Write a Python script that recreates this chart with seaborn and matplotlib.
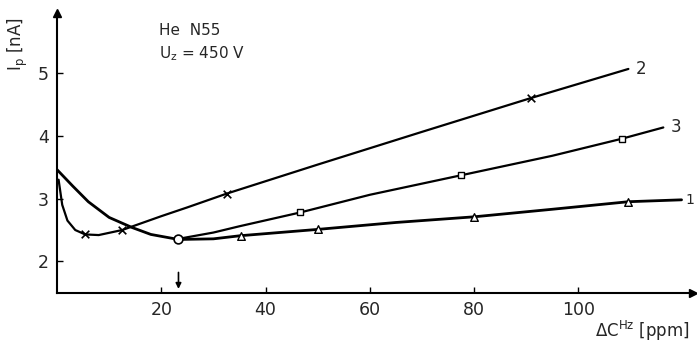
import numpy as np
import pandas as pd
import matplotlib.pyplot as plt
import seaborn as sns

# curve 1 (triangles), shares the first branch with curve 3
c1_x = [0, 3, 6, 10, 14.4, 18, 23.3, 30, 35.2, 50, 65, 80, 95, 109.6, 119.8]
c1_y = [3.46, 3.2, 2.95, 2.7, 2.54, 2.43, 2.35, 2.36, 2.41, 2.51, 2.62, 2.71, 2.83, 2.95, 2.98]
c1_mx = [35.2, 50, 80, 109.6]
c1_my = [2.41, 2.51, 2.71, 2.95]

# curve 2 (crosses)
c2_x = [0.3, 1, 2, 3.5, 5.4, 8, 12.5, 20, 25, 32.6, 50, 70, 91, 109.6]
c2_y = [3.3, 2.9, 2.65, 2.5, 2.43, 2.42, 2.5, 2.72, 2.86, 3.08, 3.54, 4.06, 4.6, 5.06]
c2_mx = [5.4, 12.5, 32.6, 91]
c2_my = [2.43, 2.5, 3.08, 4.6]

# curve 3 (squares), branches off at the minimum
c3_x = [23.3, 30, 35, 46.7, 60, 77.5, 95, 108.3, 116.3]
c3_y = [2.36, 2.46, 2.56, 2.78, 3.06, 3.37, 3.68, 3.95, 4.13]
c3_mx = [46.7, 77.5, 108.3]
c3_my = [2.78, 3.37, 3.95]

min_x, min_y = 23.3, 2.35

x_ticks = [20, 40, 60, 80, 100]
y_ticks = [2, 3, 4, 5]

sns.set_style("white")
plt.rcParams["font.family"] = ["DejaVu Sans"]

fig = plt.figure(figsize=(6.97, 3.5), dpi=100)
ax = fig.add_axes([0.0818, 0.163, 0.9125, 0.80])

line_kw = dict(color="black", sort=False, estimator=None, ax=ax)
sns.lineplot(x=c1_x, y=c1_y, linewidth=2.0, **line_kw)
sns.lineplot(x=c2_x, y=c2_y, linewidth=1.6, **line_kw)
sns.lineplot(x=c3_x, y=c3_y, linewidth=1.6, **line_kw)

sns.scatterplot(x=c1_mx, y=c1_my, marker="^", s=30, facecolor="white",
                edgecolor="black", linewidth=1.0, ax=ax, zorder=3)
sns.scatterplot(x=c2_mx, y=c2_my, marker="x", s=30, color="black",
                linewidth=1.2, ax=ax, zorder=3)
sns.scatterplot(x=c3_mx, y=c3_my, marker="s", s=22, facecolor="white",
                edgecolor="black", linewidth=1.0, ax=ax, zorder=3)
sns.scatterplot(x=[min_x], y=[min_y], marker="o", s=40, facecolor="white",
                edgecolor="black", linewidth=1.2, ax=ax, zorder=3)

# curve labels
ax.text(c2_x[-1] + 1.5, c2_y[-1], "2", fontsize=12, va="center")
ax.text(c3_x[-1] + 1.5, c3_y[-1], "3", fontsize=12, va="center")
ax.text(c1_x[-1] + 0.8, c1_y[-1], "1", fontsize=10, va="center")

# arrow marking the minimum
ax.annotate("", xy=(min_x, 1.52), xytext=(min_x, 1.87),
            arrowprops=dict(arrowstyle="-|>", color="black", lw=1.2,
                            mutation_scale=8))

ax.text(19.5, 5.6, "He  N55", fontsize=11)
ax.text(19.5, 5.23, "U$_\\mathregular{z}$ = 450 V", fontsize=11)

ax.set_xlim(0, 122)
ax.set_ylim(1.5, 5.95)
ax.set_xticks(x_ticks)
ax.set_yticks(y_ticks)
ax.tick_params(direction="in", length=4, width=1, labelsize=12.5, pad=6,
               left=True, bottom=True, color="black")
for s in ["top", "right"]:
    ax.spines[s].set_visible(False)
for s in ["left", "bottom"]:
    ax.spines[s].set_linewidth(1.5)
    ax.spines[s].set_color("black")

# axis arrows
ax.plot(1, 0, ">k", markersize=6, transform=ax.transAxes, clip_on=False)
ax.plot(0, 1, "^k", markersize=6, transform=ax.transAxes, clip_on=False)

ax.set_xlabel("")
ax.set_ylabel("")
fig.text(0.026, 0.95, "I$_\\mathregular{p}$ [nA]", rotation=90, fontsize=12,
         ha="center", va="top")
fig.text(0.99, 0.02, "$\\Delta$C$^\\mathregular{Hz}$ [ppm]", fontsize=12,
         ha="right", va="bottom")

fig.savefig("out.png", dpi=100)
